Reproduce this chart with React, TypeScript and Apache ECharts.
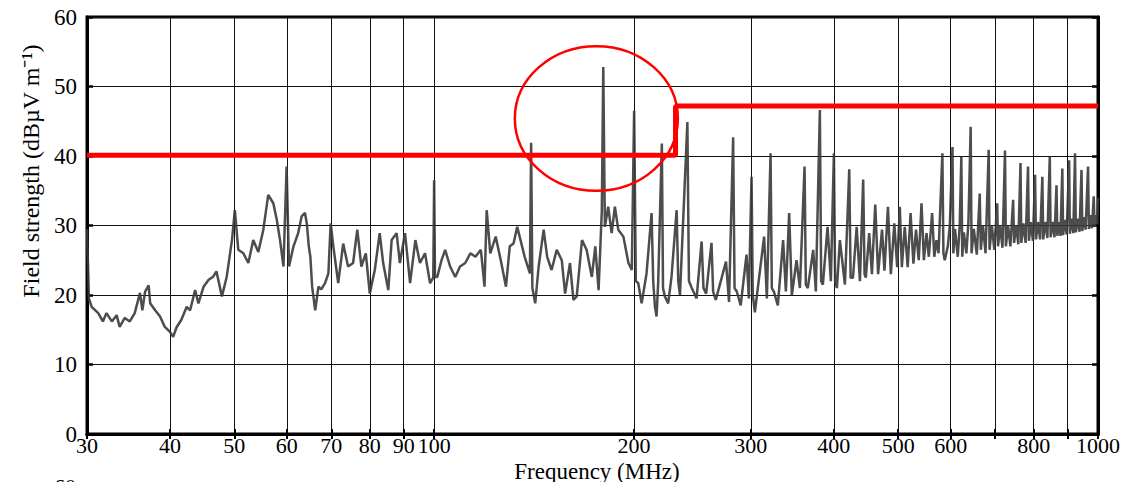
import React, { useEffect, useRef } from 'react';
import * as echarts from 'echarts';

// Axis ticks (MHz)
const gridFreqs = [30, 40, 50, 60, 70, 80, 90, 100, 200, 300, 400, 500, 600, 700, 800, 900, 1000];
const labelFreqs = [30, 40, 50, 60, 70, 80, 90, 100, 200, 300, 400, 500, 600, 800, 1000];

// Measured field strength, [frequency MHz, dBµV/m]
const band30to100: [number, number][] = [
  [30, 29.5], [30.2, 19.5], [30.49, 18.3], [31.19, 17.4], [31.7, 16.2], [32.1, 17.4], [32.7, 16.2],
  [33.25, 17.1], [33.6, 15.4], [34.2, 16.7], [34.8, 16.2], [35.4, 17.4], [36.05, 20.3], [36.35, 17.8],
  [36.7, 20.5], [37.15, 21.4], [37.35, 18.8], [38.0, 17.8], [38.65, 16.9], [39.3, 15.4], [40.0, 14.7],
  [40.45, 14.0], [40.95, 15.4], [41.6, 16.4], [42.4, 18.3], [42.9, 17.8], [43.65, 20.7], [44.15, 18.8],
  [44.95, 21.2], [45.75, 22.2], [46.45, 22.6], [47.0, 23.4], [47.9, 19.8], [48.7, 22.6], [49.6, 27.9],
  [50.1, 32.2], [50.7, 26.5], [51.6, 26.0], [52.5, 24.6], [53.4, 27.9], [54.35, 26.2], [55.3, 29.4],
  [56.25, 34.4], [57.25, 33.2], [57.95, 30.8], [58.6, 27.9], [59.3, 24.1], [59.95, 38.5], [60.45, 24.1],
  [61.4, 27], [62.4, 28.9], [63.15, 31.3], [63.9, 31.8], [64.3, 30.3], [64.75, 27], [65.1, 25.5],
  [65.5, 21.2], [66.2, 17.8], [66.95, 21.2], [67.6, 20.8], [68.5, 21.7], [69.3, 23.1], [69.85, 30.3],
  [70.5, 27], [71.7, 21.7], [72.95, 27.4], [74.2, 24.1], [75.5, 24.6], [76.6, 29.4], [77.7, 24.1],
  [78.9, 26], [80.0, 20.2], [81.4, 23.6], [82.8, 28.9], [83.8, 24.6], [85.3, 20.7], [86.3, 27.9],
  [87.8, 28.9], [88.8, 24.6], [90.4, 28.9], [92.0, 21.7], [93.7, 27.9], [95.2, 24.6], [96.9, 26],
  [98.6, 21.7], [99.7, 22.5], [100, 36.5], [100.3, 22.6],
];

const band100to235: [number, number][] = [
  [101.1, 22.6], [102.6, 25], [103.9, 26.5], [105.7, 24.1], [107.6, 22.6], [109.4, 24.1], [111.4, 24.6],
  [113.4, 26], [115.4, 25.5], [117.6, 26.5], [119.1, 21.2], [120.0, 32.2], [121.5, 26], [123.8, 28.4],
  [126.0, 25], [128.3, 21.2], [130.0, 27], [131.7, 27.4], [133.4, 29.8], [136.9, 25.5], [139.4, 23.1],
  [140.0, 41.9], [140.6, 21], [142.0, 18.8], [143.7, 24.1], [146.2, 29.4], [148.0, 25.5], [150.3, 23.6],
  [153.0, 26.5], [155.7, 25], [157.5, 20.2], [160.2, 24.6], [162.1, 19.3], [164.0, 19.8], [167.0, 27.9],
  [169.7, 26.5], [172.8, 22.6], [174.9, 27], [176.9, 20.7], [178.9, 32.2], [179.8, 52.8], [180.8, 29.8],
  [182.9, 32.7], [185.1, 28.9], [187.2, 32.7], [189.4, 29.4], [192.8, 28.4], [196.2, 24.6], [198.5, 23.6],
  [200.1, 46.5], [201.3, 22], [203, 21.7], [205.4, 18.8], [208.9, 23.1], [212.6, 31.8], [213.8, 22],
  [215.1, 18.3], [216.3, 16.9], [217.5, 21.7], [220.3, 41.8], [221.2, 21], [222.6, 19.8], [225.2, 18.8],
  [227.8, 22.6], [231.9, 32.2], [233.2, 22], [234.6, 20],
];

const band235to600: [number, number][] = [
  [240.7, 44.9], [242, 22], [244.4, 21], [248.5, 19.5], [252.9, 27.7], [254.5, 21], [256.9, 20.2],
  [261.7, 27.5], [263.2, 20.5], [265.6, 19.3], [269.4, 21.5], [275.2, 24.8], [278.1, 19], [282.1, 42.7],
  [283.5, 21], [285.7, 20.5], [289.6, 18.5], [295.5, 25.8], [297.9, 19.5], [300.7, 37], [302, 20],
  [304.2, 17.5], [307.3, 21], [314.1, 28.4], [317.1, 19.5], [321.2, 40.4], [322.6, 21], [324.9, 20.5],
  [329.4, 18.5], [335.5, 27.9], [338.7, 20.5], [342.6, 31.8], [345.8, 20], [351.5, 25], [355.6, 21],
  [361.4, 38.5], [363, 21.5], [365.5, 21], [372.4, 26.5], [375.8, 20.5], [381.1, 46.6], [382.8, 22],
  [385.1, 21.5], [391.4, 29.8], [395.9, 22], [400.1, 40.4], [401.8, 22], [404.3, 21], [408.5, 27.9],
  [415.7, 21.5], [422.0, 38.1], [424, 22.5], [427.5, 22.5], [433.0, 29.8], [437.9, 22], [442.9, 36.6],
  [445, 23], [447.0, 22.5], [452.2, 28.9], [456.5, 23], [461.8, 33], [466.4, 23], [472.8, 29.4],
  [476.8, 23.5], [482.6, 32.7], [487.5, 23], [493.4, 30.3], [498.3, 24], [502.9, 32.7], [506.4, 24],
  [511.6, 29.8], [516.8, 24], [522.0, 31.8], [527.2, 24.5], [531.9, 29.4], [537.0, 25], [542.2, 33.2],
  [546.6, 25], [551.7, 28.9], [556.1, 25.5], [562.5, 31.8], [566.8, 25.5], [571.1, 27.9], [575.2, 26],
  [582.9, 40.4], [585, 26], [587.7, 25], [594.0, 27],
];

const band600to1000: [number, number][] = [
  [598.1, 30], [603.7, 41.3], [605.5, 26], [609, 29.5], [614.8, 25.5], [619, 30], [622.5, 39.9],
  [624.5, 25.5], [628, 29], [633.5, 26], [638, 30.5], [643, 44.2], [645, 26], [650, 29.5], [656.8, 25.8],
  [663.5, 34.6], [666, 26.5], [671, 30], [677, 26], [684.5, 40.9], [686.5, 26.5], [692, 30], [698, 26.5],
  [704.9, 33.2], [707, 27], [712, 30], [718, 26.8], [724.3, 40.8], [726.5, 27], [732, 30], [738, 27],
  [745, 33.7], [747.5, 27.5], [753, 30], [758.5, 27.3], [764.3, 39], [766.5, 27.5], [772, 30.3],
  [778, 27.5], [784.5, 38.5], [787, 27.8], [792, 30.5], [798, 27.8], [803.9, 37.3], [806.5, 28],
  [812, 30.5], [818, 28], [824.5, 37], [827, 28], [833, 30.5], [839, 28.2], [846, 39.9], [848.5, 28.3],
  [854, 30.5], [860, 28.3], [865.9, 35.8], [868.5, 28.5], [873, 30.5], [878, 28.5], [883.6, 38.2],
  [886, 28.6], [891, 30.8], [897, 28.7], [904.7, 39.4], [907, 28.8], [912, 31], [918, 28.9], [923.4, 40.4],
  [926, 29], [932, 31], [938, 29.1], [944.4, 38], [947, 29.2], [952, 31.2], [958, 29.4], [966.1, 38.5],
  [969, 29.5], [974, 31.5], [979, 29.6], [985.4, 34.2], [988, 29.8], [993, 31.5], [997, 30.2], [1000, 34],
];

// Emission limit (red step line)
const limitFreq = [30, 231, 231, 1000];
const limitLevel = [40.1, 40.1, 47.2, 47.2];

// Highlight ellipse bounds around the 180 MHz peak
const circleFreq = [132.3, 232.9];
const circleLevel = [35.0, 55.8];

const FONT = "'Liberation Serif', 'Times New Roman', Times, serif";

export default function App() {
  const ref = useRef<HTMLDivElement>(null);

  useEffect(() => {
    const chart = echarts.init(ref.current!, null, { renderer: 'svg' });
    const spectrum = [...band30to100, ...band100to235, ...band235to600, ...band600to1000];
    const limit = limitFreq.map((f, i) => [f, limitLevel[i]]);

    chart.setOption({
      animation: false,
      backgroundColor: '#ffffff',
      grid: {
        left: 87, right: 26, top: 17, bottom: 48,
        show: true, borderColor: '#000', borderWidth: 3, backgroundColor: 'transparent',
        outerBoundsMode: 'none',
      },
      xAxis: [
        {
          type: 'log', logBase: 10, min: 30, max: 1000,
          axisLine: { show: true, lineStyle: { color: '#000', width: 3 } },
          axisTick: { show: true, inside: true, length: 5, lineStyle: { color: '#000', width: 2 }, customValues: gridFreqs },
          axisLabel: {
            customValues: labelFreqs, color: '#000', fontFamily: FONT, fontSize: 22, margin: 0,
            formatter: (v: number) => String(Math.round(v)),
          },
          splitLine: { show: true, lineStyle: { color: '#111', width: 1 } },
          minorTick: { show: false }, minorSplitLine: { show: false },
        },
        {
          type: 'log', logBase: 10, min: 30, max: 1000, position: 'top',
          axisLine: { show: true, lineStyle: { color: '#000', width: 3 } },
          axisTick: { show: true, inside: true, length: 5, lineStyle: { color: '#000', width: 2 }, customValues: gridFreqs },
          axisLabel: { show: false },
          splitLine: { show: false },
        },
      ],
      yAxis: [
        {
          type: 'value', min: 0, max: 60, interval: 10,
          axisLine: { show: true, lineStyle: { color: '#000', width: 3 } },
          axisTick: { show: true, inside: true, length: 6, lineStyle: { color: '#000', width: 2.5 } },
          axisLabel: { color: '#000', fontFamily: FONT, fontSize: 23, margin: 10 },
          splitLine: { show: true, lineStyle: { color: '#111', width: 1 } },
        },
        {
          type: 'value', min: 0, max: 60, interval: 10, position: 'right',
          axisLine: { show: true, lineStyle: { color: '#000', width: 3 } },
          axisTick: { show: true, inside: true, length: 6, lineStyle: { color: '#000', width: 2.5 } },
          axisLabel: { show: false },
          splitLine: { show: false },
        },
      ],
      series: [
        {
          name: 'Field strength', type: 'line', data: spectrum, showSymbol: false, symbol: 'none',
          lineStyle: { color: '#3a3a3a', width: 2.5, opacity: 0.9 }, z: 3,
        },
        {
          name: 'Limit', type: 'line', data: limit, showSymbol: false, symbol: 'none',
          lineStyle: { color: '#ff0000', width: 5 }, z: 4, clip: false,
        },
      ],
    });

    const p1 = chart.convertToPixel({ xAxisIndex: 0, yAxisIndex: 0 }, [circleFreq[0], circleLevel[1]]) as number[];
    const p2 = chart.convertToPixel({ xAxisIndex: 0, yAxisIndex: 0 }, [circleFreq[1], circleLevel[0]]) as number[];

    chart.setOption({
      graphic: [
        {
          type: 'ellipse', z: 10,
          shape: { cx: (p1[0] + p2[0]) / 2, cy: (p1[1] + p2[1]) / 2, rx: Math.abs(p2[0] - p1[0]) / 2, ry: Math.abs(p2[1] - p1[1]) / 2 },
          style: { fill: 'none', stroke: '#ff0000', lineWidth: 2.5 },
        },
        {
          type: 'text', x: 597, y: 471, z: 10,
          style: { text: 'Frequency (MHz)', font: `23px ${FONT}`, fill: '#000', align: 'center', verticalAlign: 'middle' },
        },
        {
          type: 'text', x: 31, y: 171, rotation: Math.PI / 2, z: 10,
          style: { text: 'Field strength (dBµV m⁻¹)', font: `24px ${FONT}`, fill: '#000', align: 'center', verticalAlign: 'middle' },
        },
        {
          type: 'text', x: 65, y: 475, z: 10,
          style: { text: '60', font: `22px ${FONT}`, fill: '#000', align: 'center', verticalAlign: 'top' },
        },
      ],
    });

    return () => chart.dispose();
  }, []);

  return <div ref={ref} style={{ position: 'absolute', left: 0, top: 0, width: 1124, height: 482 }} />;
}
